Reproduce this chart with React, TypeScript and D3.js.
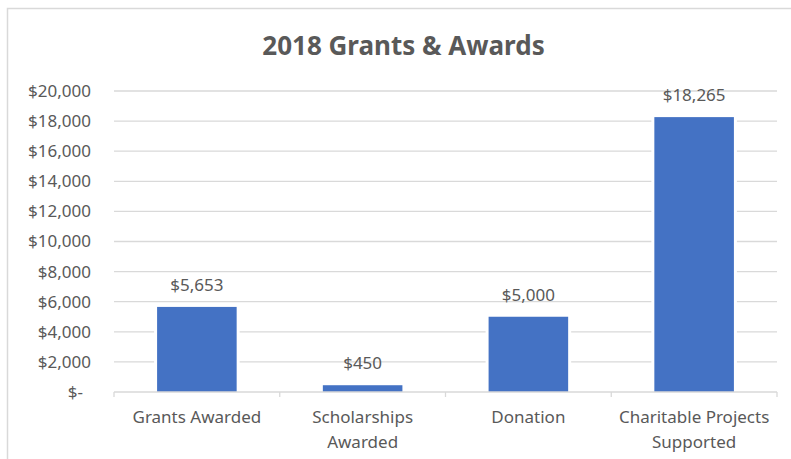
import React from "react";
import * as d3 from "d3";

const categories = ["Grants Awarded", "Scholarships Awarded", "Donation", "Charitable Projects Supported"];
const categoryLines = [["Grants Awarded"], ["Scholarships", "Awarded"], ["Donation"], ["Charitable Projects", "Supported"]];
const values = [5653, 450, 5000, 18265];
const yTicks = [0, 2000, 4000, 6000, 8000, 10000, 12000, 14000, 16000, 18000, 20000];
const title = "2018 Grants & Awards";

const W = 791;
const H = 459;
const left = 114;
const right = 777;
const top = 91;
const bottom = 392;
const FONT = "'Noto Sans', 'Open Sans', sans-serif";
const TEXT = "#595959";
const GRID = "#d9d9d9";
const BAR = "#4472C4";

const fmtNum = d3.format(",");
const money = (v: number) => (v === 0 ? "$-" : "$" + fmtNum(v));

export default function App() {
  const x = d3.scaleBand<string>().domain(categories).range([left, right]).paddingInner(0.52).paddingOuter(0.26);
  const y = d3.scaleLinear().domain([0, 20000]).range([bottom, top]);
  const step = x.step();
  const boundaries = d3.range(categories.length + 1).map((i) => left + i * step);

  return (
    <svg width={W} height={H} style={{ position: "absolute", left: 0, top: 0, background: "#fff" }} fontFamily={FONT}>
      <rect x={0} y={0} width={W} height={H} fill="#fff" />
      <rect x={7.5} y={8.5} width={900} height={700} fill="#fff" stroke={GRID} strokeWidth={1.5} />
      <text x={403.5} y={55} textAnchor="middle" fontSize={26} fontWeight={700} fill={TEXT}>
        {title}
      </text>
      {yTicks.map((t) => (
        <g key={t}>
          {t !== 0 && <line x1={left} x2={right} y1={y(t)} y2={y(t)} stroke={GRID} strokeWidth={1.3} />}
          <text x={t === 0 ? 83 : 91} y={y(t)} dy="0.35em" textAnchor="end" fontSize={17} fill={TEXT}>
            {money(t)}
          </text>
        </g>
      ))}
      {categories.map((c, i) => (
        <rect
          key={c}
          x={x(c)!}
          y={y(values[i])}
          width={x.bandwidth()}
          height={bottom - y(values[i])}
          fill={BAR}
          stroke="#fff"
          strokeWidth={6}
          paintOrder="stroke"
        />
      ))}
      <line x1={left} x2={right} y1={bottom} y2={bottom} stroke={GRID} strokeWidth={1.3} />
      {boundaries.map((b, i) => (
        <line key={i} x1={b} x2={b} y1={bottom} y2={bottom + 5} stroke={GRID} strokeWidth={1.3} />
      ))}
      {categories.map((c, i) => (
        <text key={c} x={x(c)! + x.bandwidth() / 2} y={y(values[i]) - 16} textAnchor="middle" fontSize={17} fill={TEXT}>
          {money(values[i])}
        </text>
      ))}
      {categories.map((c, i) => (
        <text key={c} x={x(c)! + x.bandwidth() / 2} y={423} textAnchor="middle" fontSize={17} fill={TEXT}>
          {categoryLines[i].map((ln, j) => (
            <tspan key={j} x={x(c)! + x.bandwidth() / 2} dy={j === 0 ? 0 : 25}>
              {ln}
            </tspan>
          ))}
        </text>
      ))}
    </svg>
  );
}
